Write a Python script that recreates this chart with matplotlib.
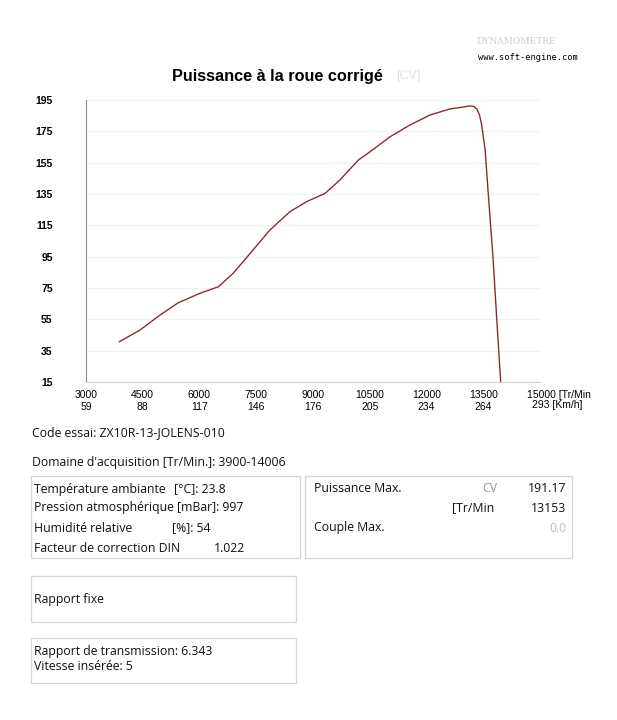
import matplotlib
matplotlib.use("Agg")
import matplotlib.pyplot as plt
from matplotlib.patches import Rectangle

# courbe de puissance
rpm = [3880, 4430, 4960, 5440, 6010, 6500, 6890, 7340, 7860, 8390, 8830, 9320,
       9710, 10200, 10510, 11040, 11560, 12090, 12620, 13000, 13150, 13250, 13330,
       13400, 13460, 13550, 13625, 13757, 13863, 13961]
cv = [40.7, 48.2, 57.8, 65.6, 71.6, 75.8, 84.4, 97.1, 112.0, 123.7, 130.1, 135.4,
      143.9, 156.7, 162.0, 171.6, 179.0, 185.4, 189.3, 190.6, 191.2, 190.9, 189.3,
      185.5, 179.0, 163.0, 137.6, 94.8, 52.7, 15.0]

x_ticks = [3000, 4500, 6000, 7500, 9000, 10500, 12000, 13500, 15000]
kmh_labels = ["59", "88", "117", "146", "176", "205", "234", "264", "293"]
y_ticks = [15, 35, 55, 75, 95, 115, 135, 155, 175, 195]

W, H = 617, 720
fig = plt.figure(figsize=(W / 100, H / 100), dpi=100)
plt.rcParams['font.family'] = ['Liberation Sans', 'DejaVu Sans']


def fx(px):
    return px / W


def fy(py):
    return 1 - py / H


ax = fig.add_axes([fx(86), fy(382), fx(540) - fx(86), fy(100) - fy(382)])
ax.plot(rpm, cv, color="#8e2b2f", lw=1.0)
ax.set_xlim(3000, 15000)
ax.set_ylim(15, 195)
ax.set_yticks(y_ticks)
ax.set_yticklabels([str(v) for v in y_ticks], fontsize=7.5, fontweight="bold")
ax.set_xticks(x_ticks)
labels = [f"{r}\n{k}" for r, k in zip(x_ticks, kmh_labels)]
labels[-1] = ""
ax.set_xticklabels(labels, fontsize=7.5, linespacing=1.25)
ax.tick_params(axis="y", length=0, pad=24)
ax.tick_params(axis="x", length=0, pad=6)
ax.grid(axis="y", color="#f0f0f0", lw=0.8)
ax.set_axisbelow(True)
for s in ["top", "right"]:
    ax.spines[s].set_visible(False)
ax.spines["left"].set_color("#8a8a8a")
ax.spines["bottom"].set_color("#d0d0d0")

# dernier tick avec les unites
fig.text(fx(527), fy(395), f"{x_ticks[-1]} [Tr/Min", fontsize=7.5, ha="left", va="center")
fig.text(fx(532), fy(405), f"{kmh_labels[-1]} [Km/h]", fontsize=7.5, ha="left", va="center")

# titre et en-tete
fig.text(fx(172), fy(76), "Puissance à la roue corrigé", fontsize=11.7, fontweight="bold",
         ha="left", va="center")
fig.text(fx(396), fy(76), "[CV]", fontsize=9, color="#e0e0e0", ha="left", va="center")
fig.text(fx(476), fy(42), "DYNAMOMETRE", fontsize=6.5, color="#cccccc", ha="left", va="center",
         family="DejaVu Serif")
fig.text(fx(478), fy(57), "www.soft-engine.com", fontsize=6.3, family="DejaVu Sans Mono",
         ha="left", va="center")

# bloc d'informations
info_font = ["Open Sans", "DejaVu Sans"]
fs = 8.8


def info(px, py, s, ha="left", color="#111111"):
    fig.text(fx(px), fy(py), s, fontsize=fs, family=info_font, ha=ha, va="center", color=color)


info(32, 433, "Code essai: ZX10R-13-JOLENS-010")
info(32, 462, "Domaine d'acquisition [Tr/Min.]: 3900-14006")

info(34, 489, "Température ambiante")
info(174, 489, "[°C]: 23.8")
info(34, 508, "Pression atmosphérique [mBar]: 997")
info(34, 528, "Humidité relative")
info(172, 528, "[%]: 54")
info(34, 548, "Facteur de correction DIN")
info(214, 548, "1.022")

info(314, 489, "Puissance Max.")
info(482, 489, "CV", color="#999999")
info(566, 489, "191.17", ha="right")
info(452, 508, "[Tr/Min")
info(566, 508, "13153", ha="right")
info(314, 528, "Couple Max.")
info(566, 528, "0.0", ha="right", color="#bbbbbb")

info(34, 599, "Rapport fixe")
info(34, 652, "Rapport de transmission: 6.343")
info(34, 667, "Vitesse insérée: 5")

box_style = dict(fill=False, edgecolor="#d6d6d6", lw=0.9, transform=fig.transFigure)
boxes = [(31, 476, 300, 558), (305, 476, 572, 558), (31, 576, 296, 622), (31, 638, 296, 683)]
for x0, y0, x1, y1 in boxes:
    fig.patches.append(Rectangle((fx(x0), fy(y1)), fx(x1) - fx(x0), fy(y0) - fy(y1), **box_style))

fig.savefig("out.png", dpi=100, facecolor="white")
